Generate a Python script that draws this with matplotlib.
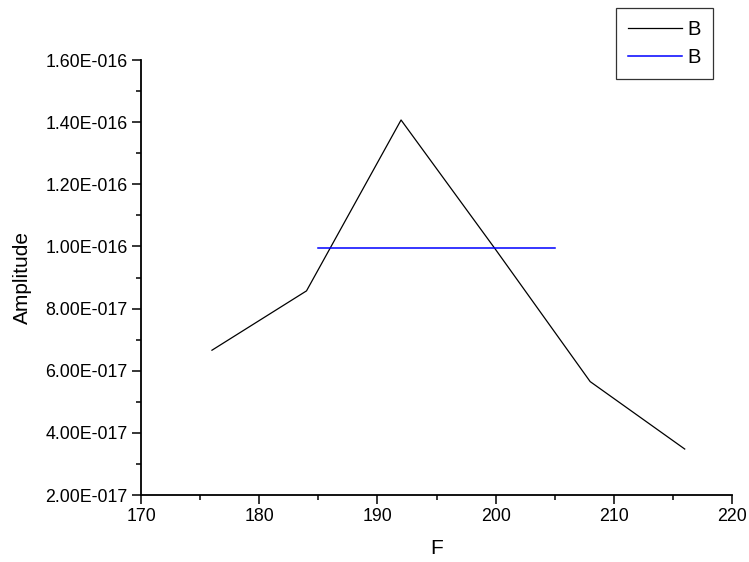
import matplotlib
matplotlib.use("Agg")
import matplotlib.pyplot as plt
from matplotlib.ticker import FuncFormatter, MultipleLocator
import math

plt.rcParams['font.family'] = ['Liberation Sans', 'DejaVu Sans']

# data
freq = [176, 184, 192, 200, 208, 216]
amplitude = [6.66e-17, 8.57e-17, 1.407e-16, 9.9e-17, 5.65e-17, 3.48e-17]

ref_freq = [185, 205]
ref_amp = [9.95e-17, 9.95e-17]


def sci_fmt(v, pos):
    if v == 0:
        return "0"
    e = int(math.floor(math.log10(abs(v)) + 1e-9))
    m = v / 10 ** e
    return f"{m:.2f}E{e:+04d}"


fig = plt.figure(figsize=(7.49, 5.62), dpi=100)
ax = fig.add_axes([0.1883, 0.1192, 0.789, 0.774])

l1, = ax.plot(freq, amplitude, color='black', lw=0.9, label='B')
l2, = ax.plot(ref_freq, ref_amp, color='#0000ff', lw=1.1, label='B')

ax.set_xlim(170, 220)
ax.set_ylim(2e-17, 1.6e-16)
ax.xaxis.set_major_locator(MultipleLocator(10))
ax.xaxis.set_minor_locator(MultipleLocator(5))
ax.yaxis.set_major_locator(MultipleLocator(2e-17))
ax.yaxis.set_minor_locator(MultipleLocator(1e-17))
ax.yaxis.set_major_formatter(FuncFormatter(sci_fmt))

for s in ['top', 'right']:
    ax.spines[s].set_visible(False)
for s in ['left', 'bottom']:
    ax.spines[s].set_linewidth(1.3)

ax.tick_params(which='major', direction='out', length=6.5, width=1.1, labelsize=12.8, pad=3)
ax.tick_params(which='minor', direction='out', length=3.5, width=1.1)

ax.set_xlabel("F", fontsize=15, labelpad=10)
ax.set_ylabel("Amplitude", fontsize=15, labelpad=10)

leg = fig.legend(handles=[l1, l2], loc='upper left', bbox_to_anchor=(0.822, 0.986),
                 fontsize=14.5, frameon=True, fancybox=False, handlelength=2.7,
                 handletextpad=0.25, borderpad=0.6, labelspacing=0.45,
                 borderaxespad=0)
leg.get_frame().set_edgecolor('black')
leg.get_frame().set_linewidth(0.9)

plt.savefig('out.png', dpi=100)
